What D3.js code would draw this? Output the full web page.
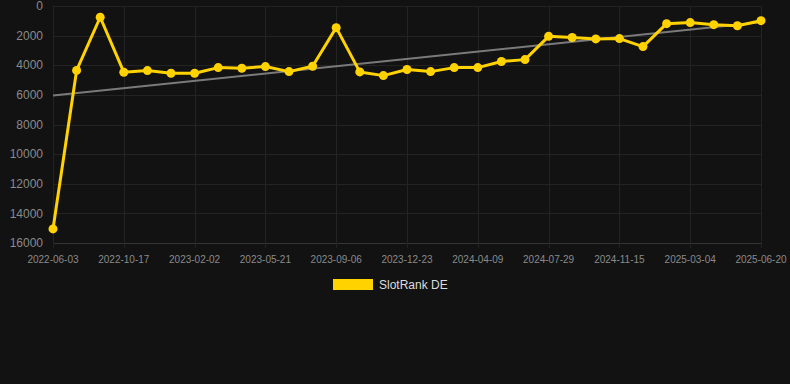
<!DOCTYPE html>
<html>
<head>
<meta charset="utf-8">
<script src="https://cdn.jsdelivr.net/npm/d3@7"></script>
<style>
  html, body { margin: 0; padding: 0; background: #121212; }
  #chart { width: 790px; height: 384px; }
  text { font-family: "Liberation Sans", Arial, sans-serif; }
</style>
</head>
<body>
<div id="chart"></div>
<script>
// Dates for each data point (only every third is labelled on the axis)
const dates = [
  '2022-06-03', '2022-07-18', '2022-09-01', '2022-10-17', '2022-11-22', '2022-12-28',
  '2023-02-02', '2023-03-10', '2023-04-15', '2023-05-21', '2023-06-28', '2023-08-02',
  '2023-09-06', '2023-10-15', '2023-11-18', '2023-12-23', '2024-01-27', '2024-03-04',
  '2024-04-09', '2024-05-15', '2024-06-22', '2024-07-29', '2024-09-05', '2024-10-10',
  '2024-11-15', '2024-12-22', '2025-01-27', '2025-03-04', '2025-04-09', '2025-05-15',
  '2025-06-20'
];
// Rank values (lower is better)
const rankValues = [
  15050, 4350, 760, 4470, 4360, 4540, 4540, 4160, 4200, 4090, 4430,
  4070, 1460, 4450, 4700, 4290, 4430, 4160, 4160, 3750, 3620, 2050,
  2130, 2220, 2200, 2740, 1190, 1120, 1260, 1330, 990
];
// Trend line endpoints
const trendValues = [6050, 1090];
const yTicks = [0, 2000, 4000, 6000, 8000, 10000, 12000, 14000, 16000];
const seriesName = 'SlotRank DE';

const width = 790, height = 384;
const margin = { left: 53, right: 29, top: 6, bottom: 141 };
const yellow = '#ffd200';
const gridColor = '#232323';

const svg = d3.select('#chart').append('svg')
  .attr('width', width)
  .attr('height', height);

svg.append('rect').attr('width', width).attr('height', height).attr('fill', '#121212');

const x = d3.scalePoint()
  .domain(d3.range(dates.length))
  .range([margin.left, width - margin.right]);

const y = d3.scaleLinear()
  .domain([0, 16000])
  .range([margin.top, height - margin.bottom]);

const labelIdx = d3.range(0, dates.length, 3);

// Horizontal grid
svg.append('g')
  .selectAll('line')
  .data(yTicks)
  .enter()
  .append('line')
  .attr('x1', margin.left)
  .attr('x2', width - margin.right)
  .attr('y1', d => Math.round(y(d)) + 0.5)
  .attr('y2', d => Math.round(y(d)) + 0.5)
  .style('stroke', d => d === 16000 ? '#333' : gridColor)
  .style('stroke-width', 1);

// Vertical grid
svg.append('g')
  .selectAll('line')
  .data(labelIdx)
  .enter()
  .append('line')
  .attr('x1', d => Math.round(x(d)) + 0.5)
  .attr('x2', d => Math.round(x(d)) + 0.5)
  .attr('y1', margin.top)
  .attr('y2', height - margin.bottom + 5)
  .style('stroke', gridColor)
  .style('stroke-width', 1);

// Y labels
svg.append('g')
  .selectAll('text')
  .data(yTicks)
  .enter()
  .append('text')
  .attr('x', margin.left - 10)
  .attr('y', d => y(d))
  .attr('dy', '0.35em')
  .style('text-anchor', 'end')
  .style('fill', '#8a8a8a')
  .style('font-size', '12px')
  .text(d => d);

// X labels
svg.append('g')
  .selectAll('text')
  .data(labelIdx)
  .enter()
  .append('text')
  .attr('x', d => x(d))
  .attr('y', height - margin.bottom + 20)
  .style('text-anchor', 'middle')
  .style('fill', '#8a8a8a')
  .style('font-size', '10px')
  .text(d => dates[d]);

// Trend line
svg.append('line')
  .attr('x1', x(0))
  .attr('y1', y(trendValues[0]))
  .attr('x2', x(dates.length - 1))
  .attr('y2', y(trendValues[1]))
  .style('stroke', '#7a7a7a')
  .style('stroke-width', 2);

// Series line
const line = d3.line()
  .x((d, i) => x(i))
  .y(d => y(d));

svg.append('path')
  .datum(rankValues)
  .attr('d', line)
  .style('fill', 'none')
  .style('stroke', yellow)
  .style('stroke-width', 3)
  .style('stroke-linejoin', 'round');

svg.append('g')
  .selectAll('circle')
  .data(rankValues)
  .enter()
  .append('circle')
  .attr('cx', (d, i) => x(i))
  .attr('cy', d => y(d))
  .attr('r', 4.5)
  .style('fill', yellow);

// Legend
const legend = svg.append('g');
legend.append('rect')
  .attr('x', 333)
  .attr('y', 279)
  .attr('width', 40)
  .attr('height', 11)
  .style('fill', yellow);
legend.append('text')
  .attr('x', 379)
  .attr('y', 285)
  .attr('dy', '0.35em')
  .style('fill', '#dddddd')
  .style('font-size', '12px')
  .text(seriesName);
</script>
</body>
</html>
